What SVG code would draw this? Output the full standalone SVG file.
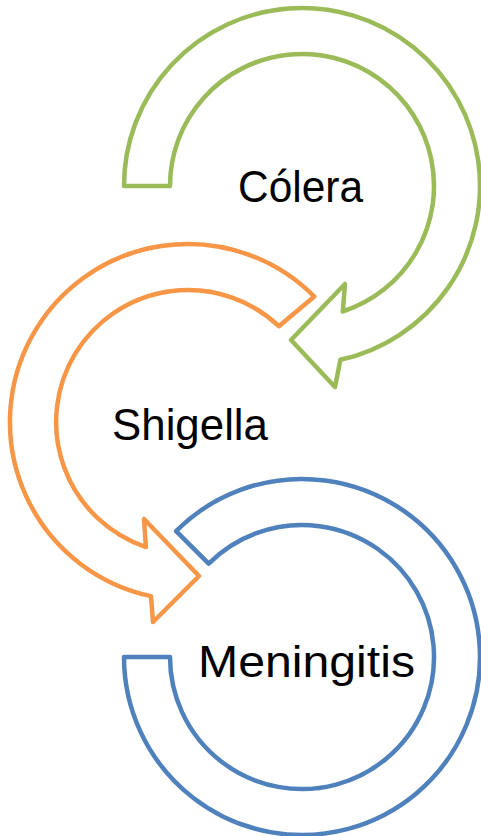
<svg xmlns="http://www.w3.org/2000/svg" width="481" height="836" viewBox="0 0 481 836">
<style>
.arr{fill:#FFFFFF;stroke-width:4.5;stroke-linejoin:round}
.g{stroke:#9BBB59}.o{stroke:#F79646}.b{stroke:#4F81BD}
.lbl{font-family:"Liberation Sans",Arial,sans-serif;font-size:44px;fill:#000000;text-anchor:middle}
</style>
<rect width="481" height="836" fill="#FFFFFF"/>
<g id="connectors"></g>
<g id="node-meningitis">
<path class="arr b" d="M176.1,531.1 A178,178 0 1 1 124,657 L170,657 A132,132 0 1 0 208.7,563.7 Z"/>
<text class="lbl" x="306.5" y="677" textLength="217" lengthAdjust="spacingAndGlyphs">Meningitis</text>
</g>
<g id="node-shigella">
<path class="arr o" d="M314.3,296.6 A178,178 0 1 0 151,596.1 L153,622 L199,576 L144,519 L145.9,547.1 A132,132 0 1 1 278.9,326.2 Z"/>
<text class="lbl" x="190" y="440" textLength="156" lengthAdjust="spacingAndGlyphs">Shigella</text>
</g>
<g id="node-colera">
<path class="arr g" d="M124,186 A178,178 0 1 1 340.4,359.8 L335,387 L291,340 L345,284 L342.8,311.5 A132,132 0 1 0 170,186 Z"/>
<text class="lbl" x="300.5" y="202" textLength="125" lengthAdjust="spacingAndGlyphs">Cólera</text>
</g>
</svg>
